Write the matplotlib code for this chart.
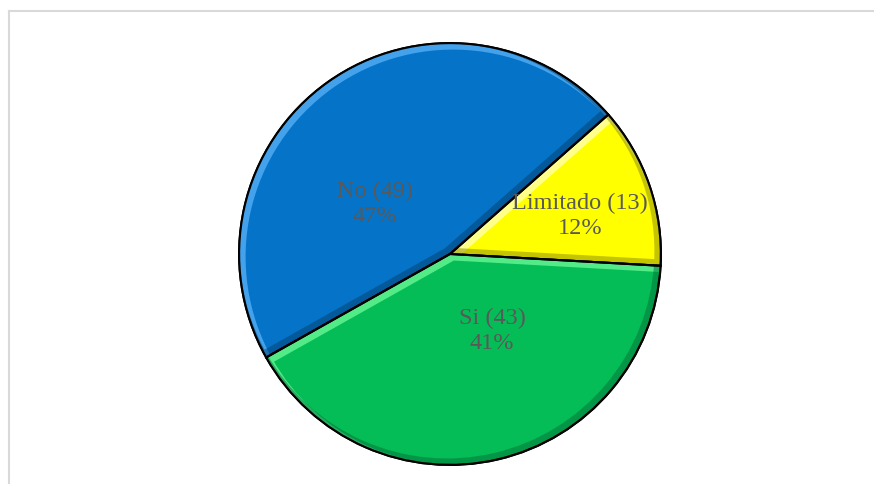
import matplotlib.pyplot as plt
from matplotlib.patches import PathPatch
from matplotlib.transforms import ScaledTranslation
from matplotlib.lines import Line2D

labels = ["Limitado", "No", "Si"]
counts = [13, 49, 43]
colors = ["#FFFF00", "#0574C8", "#05BD56"]
light = ["#FFFF9A", "#4AA8F0", "#5CF08E"]
dark = ["#8A8A00", "#03406E", "#03703A"]
# label spots inside each slice (data units, radius 1)
label_pos = [(0.616, 0.185), (-0.355, 0.242), (0.199, -0.360)]

fig = plt.figure(figsize=(8.74, 4.85), dpi=100)
fig.add_artist(Line2D([8.5 / 874, 8.5 / 874], [0, 1 - 11.5 / 485],
                      transform=fig.transFigure, color="#D9D9D9", lw=1.5))
fig.add_artist(Line2D([8.5 / 874, 1], [1 - 11.5 / 485, 1 - 11.5 / 485],
                      transform=fig.transFigure, color="#D9D9D9", lw=1.5))

ax = fig.add_axes([237 / 874, 17 / 485, 426 / 874, 426 / 485])
wedges, _ = ax.pie(counts, colors=colors, startangle=-3.2, radius=1,
                   wedgeprops=dict(edgecolor="black", linewidth=1.5))
ax.set_xlim(-1.01, 1.01)
ax.set_ylim(-1.01, 1.01)
ax.set_aspect("equal")
ax.axis("off")

# soft bevel: light band on upper-left edges, dark band on lower-right
for w, lc, dc in zip(wedges, light, dark):
    for col, dx, dy, a in [(lc, 3, -3, 0.9), (dc, -3, 3, 0.5)]:
        p = PathPatch(w.get_path(), transform=w.get_transform() +
                      ScaledTranslation(dx / 100, dy / 100, fig.dpi_scale_trans),
                      fc="none", ec=col, lw=5, alpha=a, zorder=3)
        p.set_clip_path(w)
        ax.add_patch(p)
    ax.add_patch(PathPatch(w.get_path(), transform=w.get_transform(),
                           fc="none", ec="black", lw=1.5, zorder=4))

total = sum(counts)
for lab, c, (x, y) in zip(labels, counts, label_pos):
    ax.text(x, y, f"{lab} ({c})\n{round(100 * c / total)}%", ha="center",
            va="center", fontsize=17.5, color="#595959",
            family="Liberation Serif", linespacing=1.3, zorder=5)

fig.savefig("out.png", dpi=100)
